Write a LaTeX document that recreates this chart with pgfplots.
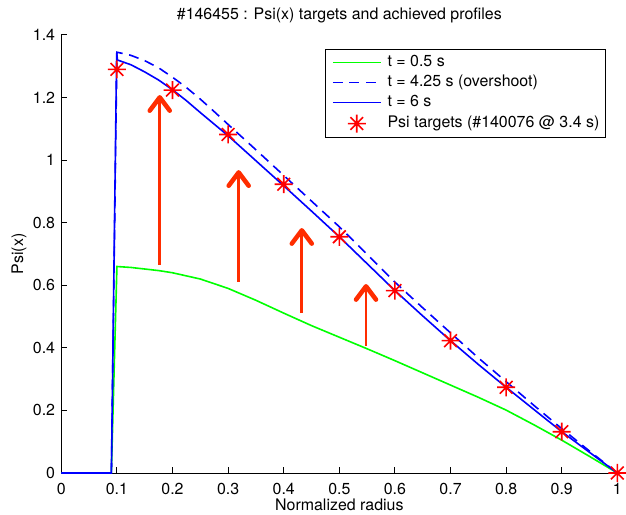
\documentclass[border=0pt]{standalone}
\usepackage{fontspec}
\setmainfont{TeX Gyre Heros}
\usepackage{pgfplots}
\pgfplotsset{compat=1.18}
\usetikzlibrary{arrows.meta}

\definecolor{mgreen}{rgb}{0,1,0}
\definecolor{mblue}{rgb}{0,0,1}
\definecolor{mred}{rgb}{1,0,0}
\definecolor{arrowred}{RGB}{255,45,0}

% MATLAB-style asterisk: a plus sign overlaid with a cross
\pgfdeclareplotmark{mstar}{%
  \pgfpathmoveto{\pgfqpoint{0pt}{\pgfplotmarksize}}%
  \pgfpathlineto{\pgfqpoint{0pt}{-\pgfplotmarksize}}%
  \pgfpathmoveto{\pgfqpoint{\pgfplotmarksize}{0pt}}%
  \pgfpathlineto{\pgfqpoint{-\pgfplotmarksize}{0pt}}%
  \pgfpathmoveto{\pgfqpoint{0.707\pgfplotmarksize}{0.707\pgfplotmarksize}}%
  \pgfpathlineto{\pgfqpoint{-0.707\pgfplotmarksize}{-0.707\pgfplotmarksize}}%
  \pgfpathmoveto{\pgfqpoint{-0.707\pgfplotmarksize}{0.707\pgfplotmarksize}}%
  \pgfpathlineto{\pgfqpoint{0.707\pgfplotmarksize}{-0.707\pgfplotmarksize}}%
  \pgfusepathqstroke}

\pgfplotsset{
  profilearrow/.style={arrowred, line width=2bp,
    -{Straight Barb[length=10bp, width=15bp, line width=3.4bp, round]}, forget plot},
  starlegend/.style={legend image code/.code={%
    \draw[##1] plot[only marks] coordinates {(18bp,0bp)};}},
}

\begin{document}
\fontsize{12}{14}\selectfont
\begin{tikzpicture}
\begin{axis}[
  scale only axis, width=417bp, height=328.5bp,
  xmin=0, xmax=1, ymin=0, ymax=1.4,
  clip=false,
  axis lines*=left,
  axis line style={black, line width=0.75bp},
  tick align=inside, major tick length=4.2bp,
  tick style={black, line width=0.75bp},
  xtick={0,0.1,0.2,0.3,0.4,0.5,0.6,0.7,0.8,0.9,1},
  ytick={0,0.2,0.4,0.6,0.8,1,1.2,1.4},
  /pgf/number format/assume math mode=true,
  ticklabel style={font=\fontsize{12}{14}\selectfont},
  xticklabel style={anchor=base, yshift=-15.75bp, inner sep=0pt},
  yticklabel style={anchor=east, inner sep=0pt, xshift=-4.5bp},
  title={\#146455 : Psi(x) targets and achieved profiles},
  every axis title shift=0pt,
  title style={at={(axis description cs:0.5,1)}, anchor=base, yshift=11.25bp, inner sep=0pt},
  xlabel={Normalized radius},
  xlabel style={at={(axis description cs:0.5,0)}, anchor=base, yshift=-27.75bp, inner sep=0pt},
  ylabel={Psi(x)},
  ylabel style={at={(axis description cs:-0.076,0.5)}, anchor=center, inner sep=0pt},
  legend cell align=left,
  legend style={at={(axis description cs:0.476,0.966)}, anchor=north west,
    draw=black, line width=0.75bp, fill=white, outer sep=0pt,
    inner xsep=4.5bp, inner ysep=3.5bp, row sep=3bp, column sep=4.5bp,
    font=\fontsize{12}{14}\selectfont,
    nodes={inner sep=0pt, text height=9bp, text depth=3bp}},
  legend image code/.code={\draw[#1] (0bp,0bp) -- (36bp,0bp);},
]
% t = 0.5 s
\addplot[mgreen, line width=1.2bp] coordinates {
  (0,0) (0.09,0) (0.1,0.66) (0.125,0.657) (0.15,0.652) (0.175,0.647)
  (0.2,0.640) (0.25,0.620) (0.3,0.590) (0.35,0.552) (0.4,0.511)
  (0.45,0.471) (0.5,0.434) (0.55,0.397) (0.6,0.359) (0.65,0.320)
  (0.7,0.281) (0.75,0.242) (0.8,0.201) (0.85,0.154) (0.9,0.105)
  (0.95,0.053) (1,0)
};
\addlegendentry{t = 0.5 s}
% t = 4.25 s
\addplot[mblue, line width=1.2bp, dash pattern=on 7.5bp off 5bp] coordinates {
  (0,0) (0.09,0) (0.1,1.345) (0.125,1.335) (0.15,1.318) (0.175,1.295)
  (0.2,1.265) (0.225,1.232) (0.25,1.195) (0.275,1.155) (0.3,1.114)
  (0.35,1.033) (0.4,0.951) (0.45,0.869) (0.5,0.787) (0.55,0.699)
  (0.6,0.610) (0.65,0.528) (0.7,0.448) (0.75,0.368) (0.8,0.292)
  (0.85,0.216) (0.9,0.142) (0.95,0.070) (1,0)
};
\addlegendentry{t = 4.25 s (overshoot)}
% t = 6 s
\addplot[mblue, line width=1.2bp] coordinates {
  (0,0) (0.09,0) (0.0995,1.343) (0.101,1.320) (0.125,1.305) (0.15,1.282)
  (0.175,1.256) (0.2,1.225) (0.225,1.190) (0.25,1.152) (0.275,1.115)
  (0.3,1.078) (0.35,0.998) (0.4,0.918) (0.45,0.837) (0.5,0.755)
  (0.55,0.669) (0.6,0.583) (0.65,0.502) (0.7,0.423) (0.75,0.347)
  (0.8,0.274) (0.85,0.203) (0.9,0.132) (0.95,0.066) (1,0)
};
\addlegendentry{t = 6 s}
% targets
\addplot[only marks, mark=mstar, mark size=6.75bp,
  mark options={mred, line width=1.2bp}, starlegend]
  coordinates {
  (0.1,1.29) (0.2,1.224) (0.3,1.082) (0.4,0.923) (0.5,0.755)
  (0.6,0.583) (0.7,0.423) (0.8,0.274) (0.9,0.132) (1,0)
};
\addlegendentry{Psi targets (\#140076 @ 3.4 s)}
% rise from the 0.5 s profile towards the targets
\addplot[profilearrow] coordinates {(0.177,0.665) (0.177,1.208)};
\addplot[profilearrow] coordinates {(0.319,0.611) (0.319,0.968)};
\addplot[profilearrow] coordinates {(0.4325,0.511) (0.4325,0.783)};
\addplot[profilearrow] coordinates {(0.548,0.407) (0.548,0.604)};
\end{axis}
\pgfresetboundingbox
\path[use as bounding box]
  ([shift={(-46bp,-31.5bp)}]current axis.south west) rectangle
  ([shift={(6.5bp,26.25bp)}]current axis.north east);
\end{tikzpicture}
\end{document}
